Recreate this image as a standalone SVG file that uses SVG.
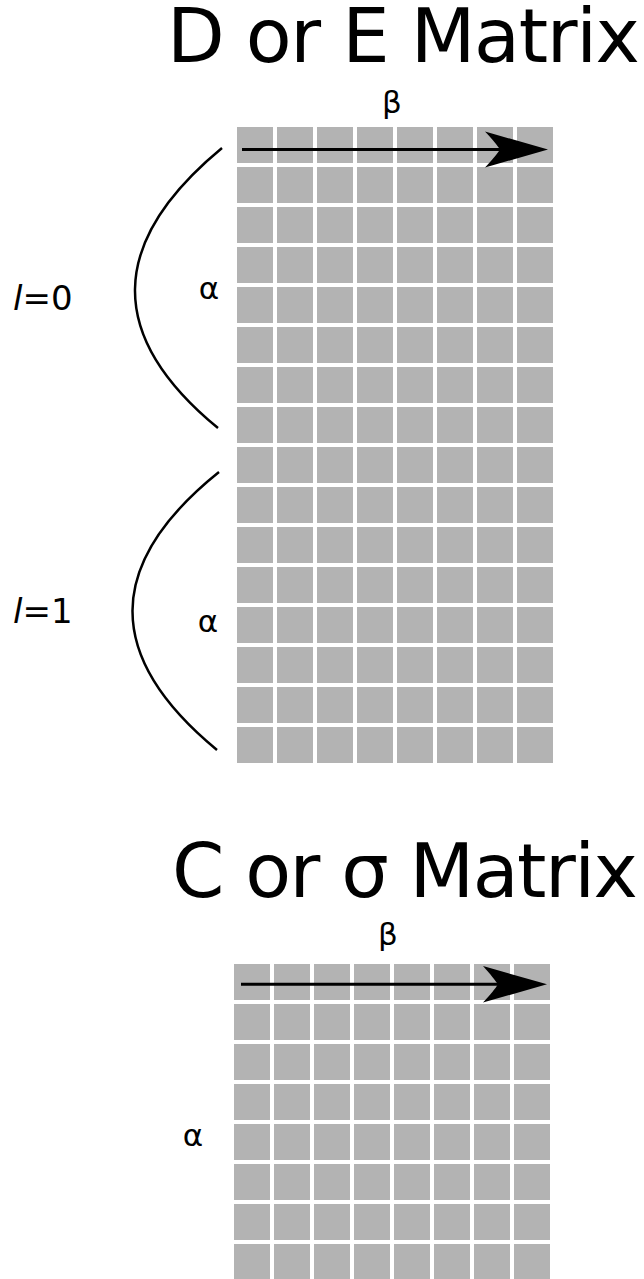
<svg xmlns="http://www.w3.org/2000/svg" width="644" height="1279" viewBox="0 0 644 1279">
<style>
.t{font-family:"DejaVu Sans","Liberation Sans",sans-serif;fill:#000}
.title{font-size:75px}
.lbl{font-size:31px}
.lv{font-size:34px}
.cv{fill:none;stroke:#000;stroke-width:2.5}
.ar{stroke:#000;stroke-width:3;fill:none}
.hd{fill:#000}
</style>
<defs>
<pattern id="cellsA" patternUnits="userSpaceOnUse" x="237" y="127" width="40" height="40">
<rect x="0" y="0" width="36" height="36" fill="#b3b3b3"/>
</pattern>
<pattern id="cellsB" patternUnits="userSpaceOnUse" x="234" y="964" width="40" height="40">
<rect x="0" y="0" width="36" height="36" fill="#b3b3b3"/>
</pattern>
</defs>
<rect width="644" height="1279" fill="#fff"/>
<g id="de-matrix">
<text class="t title" x="167" y="62" textLength="473" lengthAdjust="spacing">D or E Matrix</text>
<rect x="237" y="127" width="316" height="636" fill="url(#cellsA)"/>
<text class="t lbl" x="392" y="113" text-anchor="middle">β</text>
<text class="t lbl" x="209" y="299" text-anchor="middle">α</text>
<text class="t lbl" x="208" y="632" text-anchor="middle">α</text>
<text class="t lv" x="13" y="310"><tspan font-style="italic">l</tspan>=0</text>
<text class="t lv" x="13" y="623"><tspan font-style="italic">l</tspan>=1</text>
</g>
<g id="c-matrix">
<text class="t title" x="172" y="897" textLength="466" lengthAdjust="spacing">C or σ Matrix</text>
<rect x="234" y="964" width="316" height="316" fill="url(#cellsB)"/>
<text class="t lbl" x="388" y="945" text-anchor="middle">β</text>
<text class="t lbl" x="193" y="1146" text-anchor="middle">α</text>
</g>
<g id="connectors">
<path class="cv" d="M222,148 Q50,290 218,428"/>
<path class="cv" d="M219,472 Q47,610 217,750"/>
<line class="ar" x1="242" y1="149.5" x2="505" y2="149.5"/>
<path class="hd" d="M548,149.5 L485,131.5 C493,140 497,145 500,149.5 C497,154 493,159 485,167.5 Z"/>
<line class="ar" x1="241" y1="984.3" x2="503" y2="984.3"/>
<path class="hd" d="M547,984.3 L483,966 C491,975 495,980 498,984.3 C495,989 491,994 483,1002.5 Z"/>
</g>
</svg>
